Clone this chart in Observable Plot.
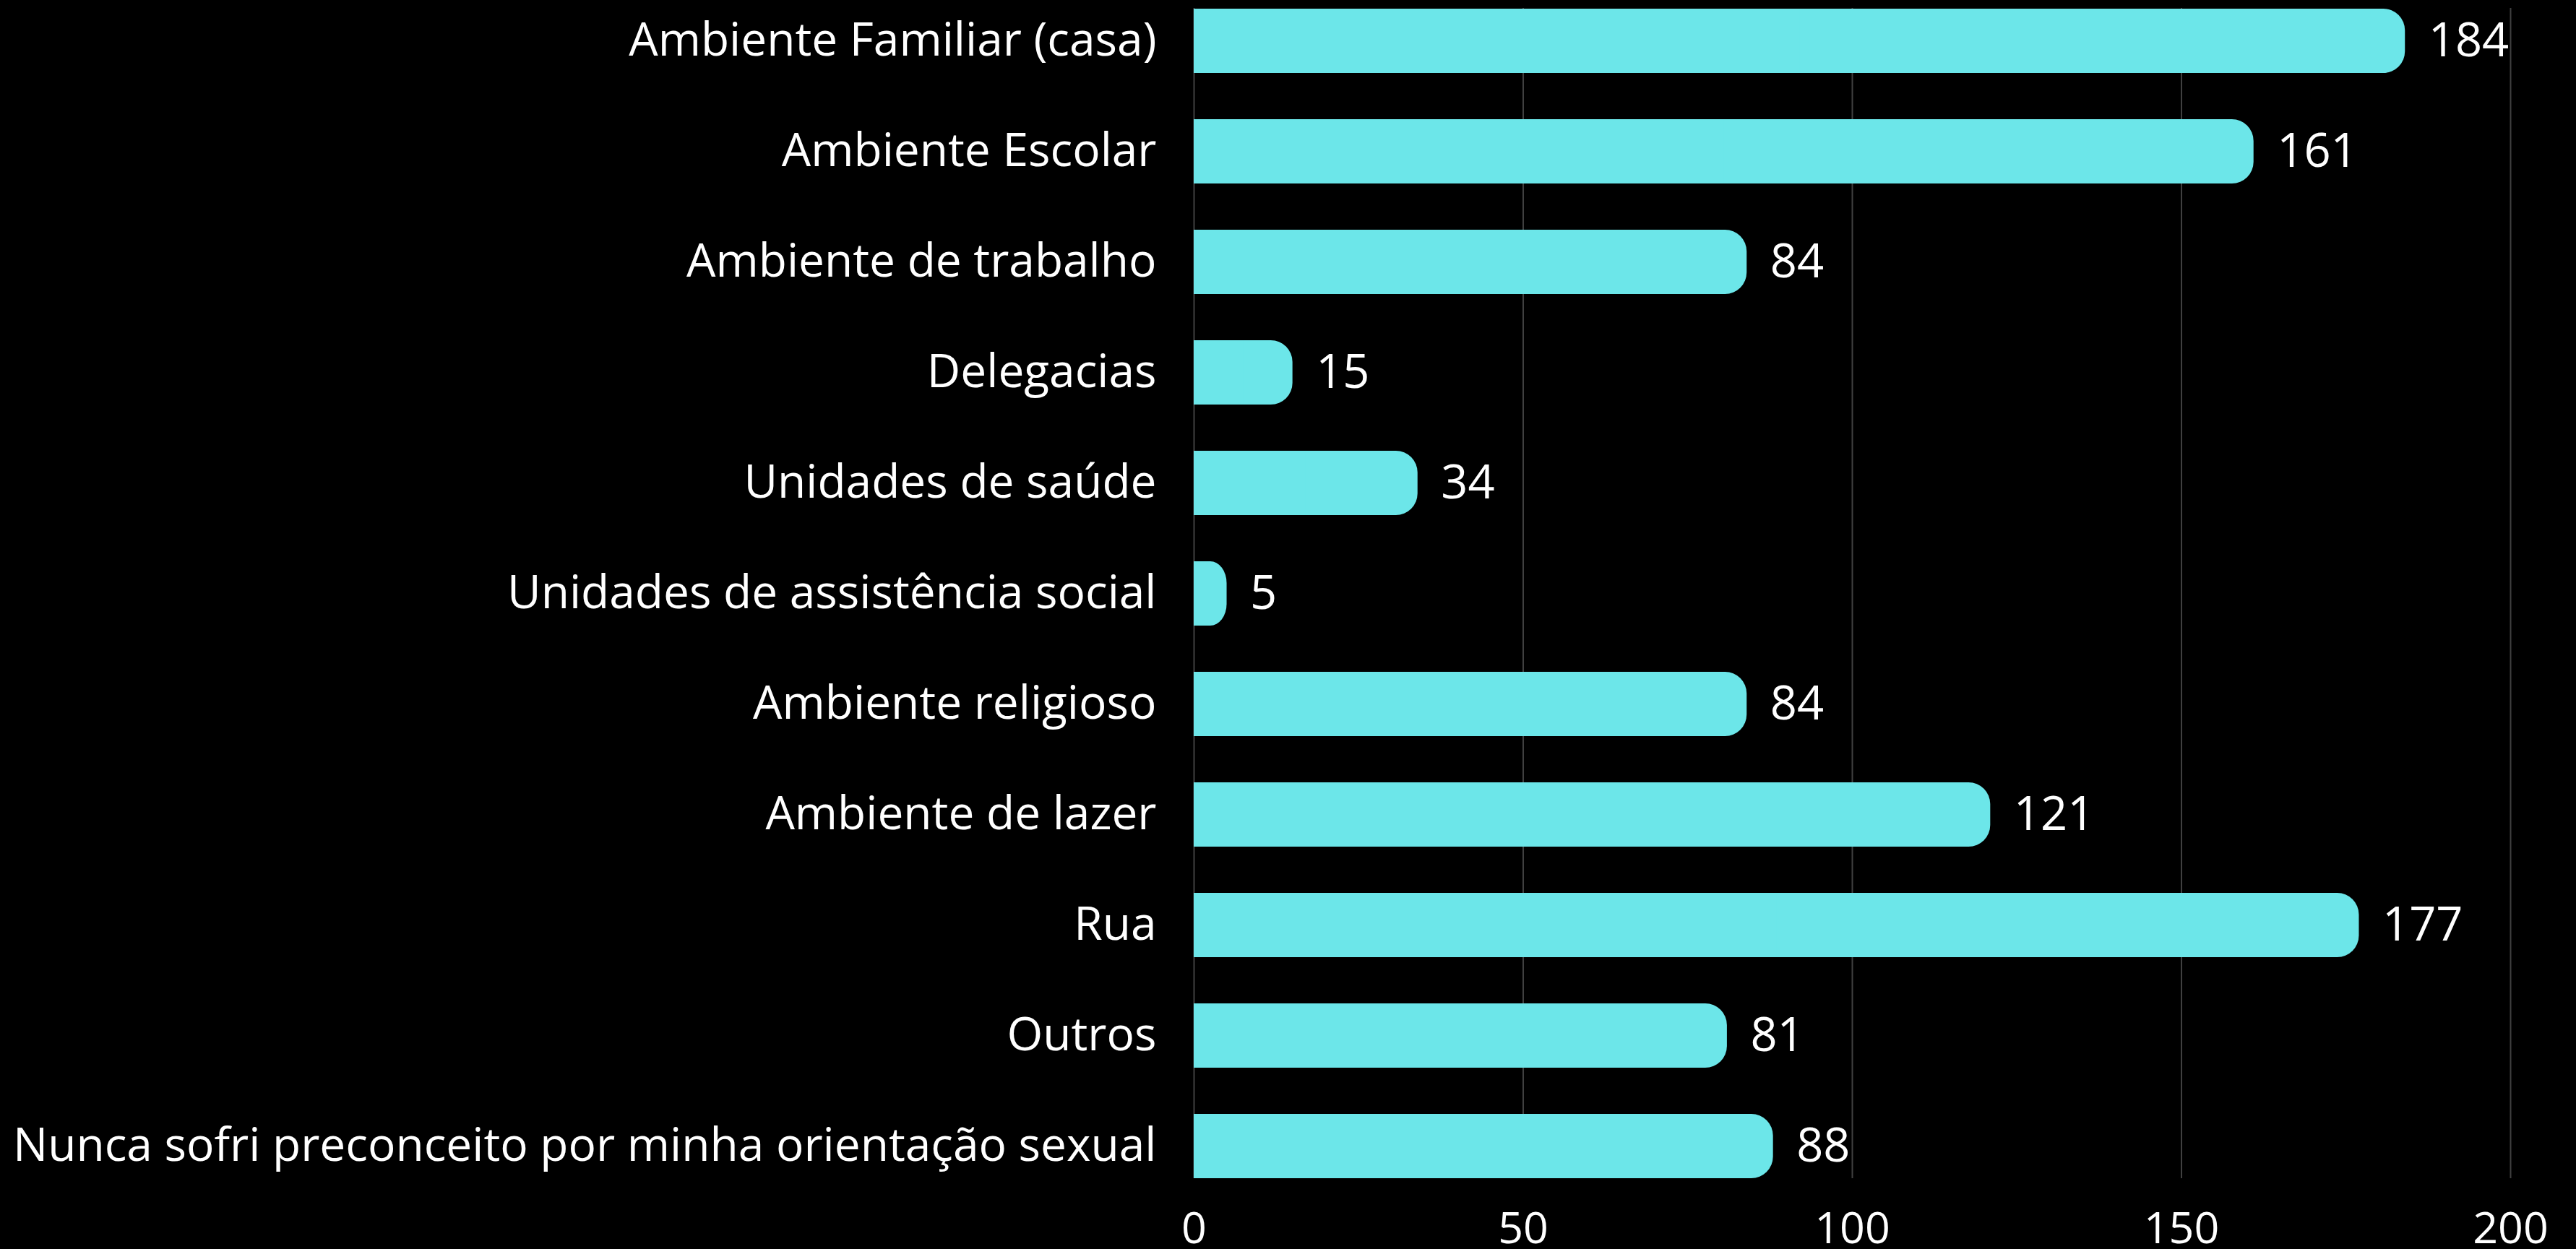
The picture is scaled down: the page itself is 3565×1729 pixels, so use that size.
<!DOCTYPE html>
<html><head><meta charset="utf-8">
<script src="https://cdn.jsdelivr.net/npm/d3@7"></script>
<script src="https://cdn.jsdelivr.net/npm/@observablehq/plot@0.6"></script>
<style>html,body{margin:0;padding:0;background:#000;overflow:hidden;}</style>
</head><body><div id="chart"></div>
<script>
const categories = [
  "Ambiente Familiar (casa)",
  "Ambiente Escolar",
  "Ambiente de trabalho",
  "Delegacias",
  "Unidades de saúde",
  "Unidades de assistência social",
  "Ambiente religioso",
  "Ambiente de lazer",
  "Rua",
  "Outros",
  "Nunca sofri preconceito por minha orientação sexual"
];
const values = [184, 161, 84, 15, 34, 5, 84, 121, 177, 81, 88];
const xTicks = [0, 50, 100, 150, 200];

const data = categories.map((c, i) => ({category: c, value: values[i]}));
const barColor = "#6ce6e9";

const chart = Plot.plot({
  width: 3565,
  height: 1729,
  marginTop: 11,
  marginBottom: 98,
  marginLeft: 1652,
  marginRight: 91,
  style: {background: "#000", color: "#fff", fontFamily: "'Open Sans', sans-serif"},
  x: {domain: [0, 200], ticks: xTicks, label: null},
  y: {domain: categories, paddingInner: 0.42, paddingOuter: 0, label: null},
  marks: [
    Plot.gridX(xTicks, {stroke: "#404040", strokeOpacity: 1, strokeWidth: 2}),
    Plot.barX(data, {y: "category", x: "value", fill: barColor, rx: 30}),
    Plot.barX(data, {y: "category", x1: 0, x2: d => d.value / 2, fill: barColor}),
    Plot.text(data, {y: "category", x: "value", text: d => String(d.value), textAnchor: "start", dx: 32, fill: "#fff", fontSize: 65}),
    Plot.axisX({ticks: xTicks, tickSize: 0, tickPadding: 46, fontSize: 61, fill: "#fff"}),
    Plot.axisY({tickSize: 0, tickPadding: 52, fontSize: 64, fill: "#fff"})
  ]
});
document.getElementById("chart").appendChild(chart);
</script>
</body></html>
